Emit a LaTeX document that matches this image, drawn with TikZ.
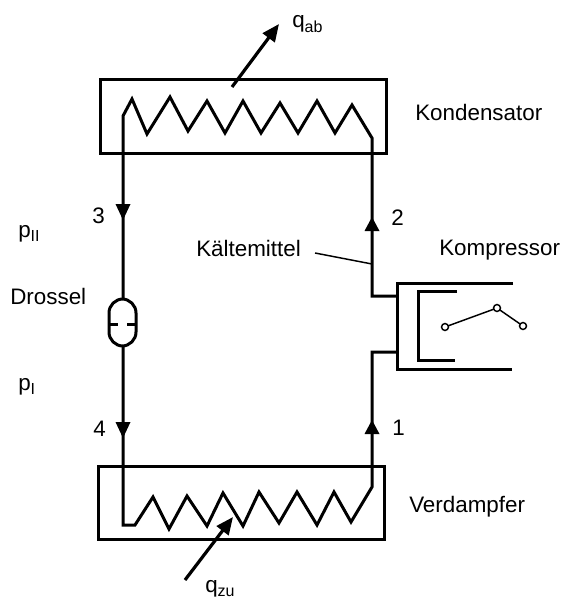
\documentclass[tikz,border=0pt]{standalone}
\usepackage{fontspec}
\setmainfont{Liberation Sans}
\usetikzlibrary{arrows.meta}
\newcommand{\lowidx}[1]{\raisebox{-3.2pt}{\fontsize{12pt}{13pt}\selectfont #1}}
\tikzset{
    pipe/.style={line width=2.25pt, line join=miter},
    flowtip/.style={black, fill=black},
    heatflow/.style={line width=2.4pt, -{Triangle[length=13pt,width=11pt]}},
    thin line/.style={line width=1.1pt},
    label/.style={inner sep=0pt, anchor=base west, font=\fontsize{16.8pt}{19pt}\selectfont}
}
\begin{document}
\begin{tikzpicture}[x=0.75pt, y=-0.75pt]
    \useasboundingbox (0,0) rectangle (563,599);

    % Coordinates for the two exchangers
    \coordinate (k1) at (100,80);
    \coordinate (k2) at (386,154);
    \coordinate (v1) at (98,466);
    \coordinate (v2) at (384,539);

    % Boxes
    \draw[pipe] (k1) rectangle (k2);
    \draw[pipe] (v1) rectangle (v2);

    % Left line with the coil of the condenser
    \coordinate (a) at (123,116);
    \coordinate (b) at (372,138);
    \coordinate (c) at (372,296);
    \coordinate (d) at (397,296);
    \coordinate (e) at (397,352);
    \coordinate (f) at (372,352);
    \coordinate (g) at (372,487);
    \coordinate (h) at (123,525);
    \coordinate (t1) at (123,299);
    \coordinate (t2) at (123,346);
    \draw[pipe] (t1) -- (a) -- (132,99) -- (147,134) -- (170,97) -- (188,131) -- (207,101)
        -- (225,133) -- (243,101) -- (261,133) -- (280,103) -- (298,133) -- (317,101)
        -- (335,133) -- (352,105) -- (b) -- (c) -- (d);
    % Coil of the evaporator
    \draw[pipe] (t2) -- (h) -- (135,525) -- (153,497) -- (169,529) -- (187,496) -- (207,526)
        -- (223,493) -- (243,526) -- (259,492) -- (279,523) -- (297,492) -- (317,525)
        -- (334,492) -- (351,522) -- (g) -- (f) -- (e);

    % Throttle
    \draw[pipe, rounded corners=10.5pt] (109,299) rectangle (136,346);
    \draw[pipe] (109,324) -- (118,324);
    \draw[pipe] (127,324) -- (136,324);

    % Flow direction
    \foreach \x/\y in {123/220, 123/438} \fill[flowtip] (\x,\y) -- ++(-7.5,-16) -- ++(15,0) -- cycle;
    \foreach \x/\y in {372/217, 372/420} \fill[flowtip] (\x,\y) -- ++(-7.5,14) -- ++(15,0) -- cycle;

    % Compressor
    \coordinate (o1) at (513,283);
    \coordinate (o2) at (397,283);
    \coordinate (o3) at (397,369);
    \coordinate (o4) at (512,369);
    \draw[pipe] (o1) -- (o2) -- (o3) -- (o4);
    \draw[pipe] (457,291) -- (418,291) -- (418,360) -- (455,360);
    \coordinate (c1) at (445,327);
    \coordinate (c2) at (497,308);
    \coordinate (c3) at (523,326);
    \draw[thin line] (c1) -- (c2) -- (c3);
    \foreach \p in {c1,c2,c3} \draw[thin line, fill=white] (\p) circle (2.6pt);

    % Heat
    \coordinate (qa) at (232,87);
    \coordinate (qb) at (279,24);
    \coordinate (qc) at (185,580);
    \coordinate (qd) at (233,517);
    \draw[heatflow] (qa) -- (qb);
    \draw[heatflow] (qc) -- (qd);

    % Labels
    \node[label] (qab) at (292,28) {q\lowidx{ab}};
    \node[label] (qzu) at (205,592) {q\lowidx{zu}};
    \node[label] (kond) at (415,121) {Kondensator};
    \node[label] (verd) at (409,512) {Verdampfer};
    \node[label] (komp) at (439,255) {Kompressor};
    \node[label] (kaelte) at (196,256) {Kältemittel};
    \node[label] (dros) at (10,304) {Drossel};
    \node[label] (p2) at (18,237) {p\lowidx{II}};
    \node[label] (p1) at (18,390) {p\lowidx{I}};
    \node[label] (n3) at (92,223) {3};
    \node[label] (n4) at (93,436) {4};
    \node[label] (n2) at (391,225) {2};
    \node[label] (n1) at (392,435) {1};

    % Leader
    \coordinate (lead1) at (315,253);
    \coordinate (lead2) at (372,264);
    \draw[thin line] (lead1) -- (lead2);
\end{tikzpicture}
\end{document}
